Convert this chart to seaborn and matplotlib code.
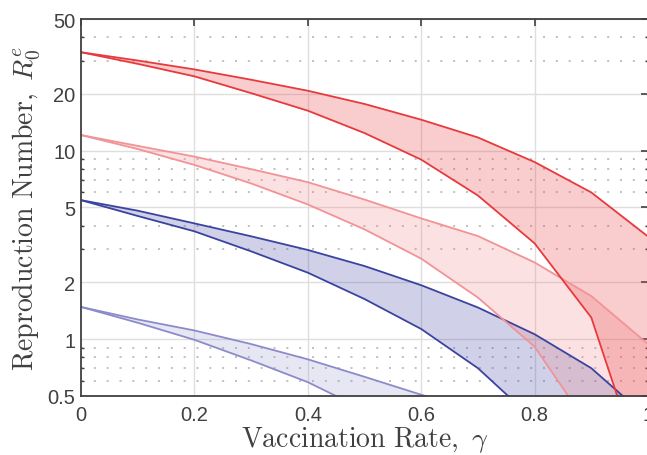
import numpy as np
import pandas as pd
import matplotlib
matplotlib.use("Agg")
import matplotlib.pyplot as plt
import matplotlib.ticker as mticker
import seaborn as sns

# ---- data ----
gamma = [0.0, 0.1, 0.2, 0.3, 0.4, 0.5, 0.6, 0.7, 0.8, 0.9, 1.0]
red_hi_upper = [33.3, 30.1, 27.0, 23.8, 20.8, 17.7, 14.6, 11.75, 8.7, 6.0, 3.5]
red_hi_lower = [33.3, 28.9, 24.8, 20.2, 16.3, 12.4, 8.96, 5.78, 3.22, 1.30, 0.16]
red_lo_upper = [12.1, 10.6, 9.3, 7.98, 6.8, 5.5, 4.37, 3.52, 2.55, 1.69, 0.94]
red_lo_lower = [12.1, 10.2, 8.4, 6.7, 5.18, 3.82, 2.67, 1.66, 0.91, 0.33, 0.13]
blue_hi_upper = [5.46, 4.8, 4.11, 3.51, 2.97, 2.44, 1.93, 1.47, 1.06, 0.70, 0.38]
blue_hi_lower = [5.46, 4.5, 3.73, 2.92, 2.25, 1.63, 1.13, 0.70, 0.37, 0.19, 0.10]
blue_lo_upper = [1.48, 1.27, 1.11, 0.94, 0.78, 0.63, 0.506, 0.41, 0.32, 0.25, 0.20]
blue_lo_lower = [1.48, 1.22, 0.99, 0.77, 0.59, 0.42, 0.33, 0.26, 0.20, 0.16, 0.12]

yticks = [0.5, 1, 2, 5, 10, 20, 50]
ytick_labels = ["0.5", "1", "2", "5", "10", "20", "50"]
yminor = [0.6, 0.7, 0.8, 0.9, 3, 4, 6, 7, 8, 9, 30, 40]
xticks = [0, 0.2, 0.4, 0.6, 0.8, 1.0]
xtick_labels = ["0", "0.2", "0.4", "0.6", "0.8", "1"]

bands = [
    ("blue_lo", blue_lo_upper, blue_lo_lower, "#8b8bcc", "#8b8bcc", 0.20),
    ("blue_hi", blue_hi_upper, blue_hi_lower, "#3a449f", "#4a4aa8", 0.26),
    ("red_lo", red_lo_upper, red_lo_lower, "#f29396", "#f07a7e", 0.22),
    ("red_hi", red_hi_upper, red_hi_lower, "#e8393c", "#ec4548", 0.27),
]

sns.set_style("white")
plt.rcParams["font.family"] = ["Liberation Sans", "DejaVu Sans"]
plt.rcParams["mathtext.fontset"] = "cm"

fig = plt.figure(figsize=(6.47, 4.56), dpi=100)
ax = fig.add_axes([81 / 647, 1 - 396.7 / 456, (648 - 81) / 647, (396.7 - 20) / 456])

ax.set_yscale("log")
ax.set_xlim(0, 1)
ax.set_ylim(0.5, 50)

# grid
for v in yticks:
    ax.axhline(v, color="#dedede", lw=1.0, zorder=0)
for v in xticks[1:-1]:
    ax.axvline(v, color="#dedede", lw=1.0, zorder=0)
for v in yminor:
    ax.axhline(v, color="#b5b5b5", lw=1.2, ls=(0, (1.2, 6.5)), zorder=0)

for name, up, lo, lc, fc, a in bands:
    df = pd.DataFrame({"gamma": gamma * 2,
                       "R": up + lo,
                       "edge": ["upper"] * len(gamma) + ["lower"] * len(gamma)})
    ax.fill_between(gamma, lo, up, color=fc, alpha=a, lw=0, zorder=2)
    sns.lineplot(data=df, x="gamma", y="R", units="edge", estimator=None,
                 color=lc, lw=1.3, ax=ax, zorder=3, legend=False)

ax.set_yticks(yticks)
ax.set_yticklabels(ytick_labels)
ax.yaxis.set_minor_locator(mticker.FixedLocator(yminor))
ax.yaxis.set_minor_formatter(mticker.NullFormatter())
ax.set_xticks(xticks)
ax.set_xticklabels(xtick_labels)

tc = "#404040"
ax.tick_params(which="major", direction="in", length=5, width=1.2, color=tc,
               labelcolor=tc, labelsize=14.5, top=True, right=True, pad=4)
ax.tick_params(axis="x", which="major", pad=7)
ax.tick_params(which="minor", direction="in", length=2.5, width=1.0, color=tc,
               left=True, right=True)
for s in ax.spines.values():
    s.set_color(tc)
    s.set_linewidth(1.3)
    s.set_zorder(5)

ax.set_xlabel(r"$\mathrm{Vaccination\ Rate,}\ \gamma$", fontsize=20, color=tc, labelpad=0)
ax.set_ylabel(r"$\mathrm{Reproduction\ Number,}\ R_0^e$", fontsize=20, color=tc, labelpad=4)

fig.savefig("out.png", dpi=100)
